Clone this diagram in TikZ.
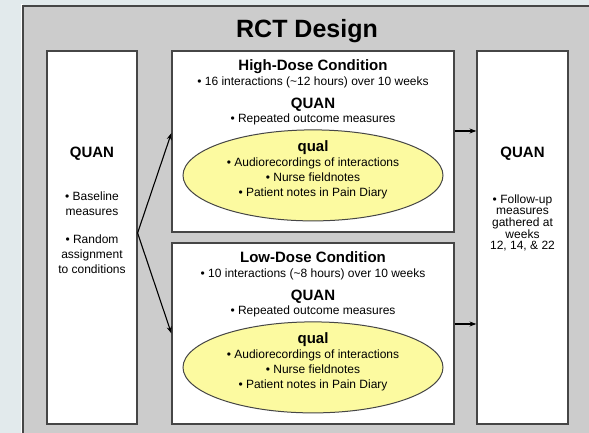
\documentclass[tikz,border=0pt]{standalone}
\usepackage{fontspec}
\setmainfont{Liberation Sans}
\usepackage{tikz}
\usetikzlibrary{positioning, shapes, arrows.meta}
\definecolor{pagebg}{RGB}{226,234,236}
\definecolor{panelgray}{RGB}{204,204,204}
\definecolor{boxline}{RGB}{70,70,70}
\definecolor{qualyellow}{RGB}{252,250,160}

\tikzset{
  box/.style={draw=boxline, fill=white, line width=1.2pt, inner sep=0pt},
  qualell/.style={ellipse, draw=boxline, fill=qualyellow, line width=1pt,
    minimum width=260pt, minimum height=91pt, inner sep=0pt},
  head/.style={font=\bfseries\fontsize{15}{18}\selectfont, anchor=base},
  body/.style={font=\fontsize{12}{15}\selectfont, align=center, anchor=base},
  flow/.style={->, >={Stealth[length=7pt,width=5pt]}, line width=1.1pt}
}

\begin{document}
\begin{tikzpicture}[x=1pt,y=1pt]
    \fill[pagebg] (0,0) rectangle (589,433);
    \useasboundingbox (0,0) rectangle (589,433);
    % grey panel, only left and top edges are seen
    \fill[panelgray] (23,0) rectangle (589,427);
    \draw[white, line width=2pt] (21.5,0) -- (21.5,429);
    \draw[boxline, line width=1.5pt] (23,0) |- (589,427);

      \node[font=\bfseries\fontsize{25}{30}\selectfont, anchor=base] (title) at (307,395) {RCT Design};

      \node[box, minimum width=90pt, minimum height=373pt] (left) at (92,195.5) {};
      \node[box, minimum width=91pt, minimum height=373pt] (right) at (522.5,195.5) {};

      % multi-line nodes sit on the baseline of their last line
      \node (left-quan) [below=107.5pt of left.north, head] {QUAN};
      \node (left-text) [below=223pt of left.north, body]
        {• Baseline\\measures\\[13pt]• Random\\assignment\\to conditions};

      \node (right-quan) [below=107.5pt of right.north, head] {QUAN};
      \node (right-text) [below=199.5pt of right.north, body, font=\fontsize{12}{11.7}\selectfont]
        {• Follow-up\\measures\\gathered at\\weeks\\12, 14, \& 22};

      \foreach \nm/\cy/\hd/\info in {high/291.5/High-Dose Condition/16 interactions (\textasciitilde12 hours) over 10 weeks,
                                     low/99.5/Low-Dose Condition/10 interactions (\textasciitilde8 hours) over 10 weeks}{
        \node[box, minimum width=282pt, minimum height=181pt] (\nm) at (313,\cy) {};
        \node (\nm-head) [below=20.5pt of \nm.north, head] {\hd};
        \node (\nm-info) [below=35pt of \nm.north, body] {• \info};
        \node (\nm-quan) [below=58pt of \nm.north, head] {QUAN};
        \node (\nm-rep) [below=72.5pt of \nm.north, body] {• Repeated outcome measures};
        \node[qualell] (\nm-ell) [below=125pt of \nm.north, anchor=center] {};
        \node (\nm-qual) [above=24pt of \nm-ell.center, head] {qual};
        \node (\nm-notes) [below=21.5pt of \nm-ell.center, body]
          {• Audiorecordings of interactions\\• Nurse fieldnotes\\• Patient notes in Pain Diary};
      }

      \coordinate (split) at ([yshift=4.5pt]left.east);
      \draw[flow] (split) -- ([yshift=8.5pt]high.west);
      \draw[flow] (split) -- (low.west);
      \draw[flow] ([yshift=10.5pt]high.east) -- ([yshift=10.5pt]high.east -| right.west);
      \draw[flow] ([yshift=9.5pt]low.east) -- ([yshift=9.5pt]low.east -| right.west);
\end{tikzpicture}
\end{document}
